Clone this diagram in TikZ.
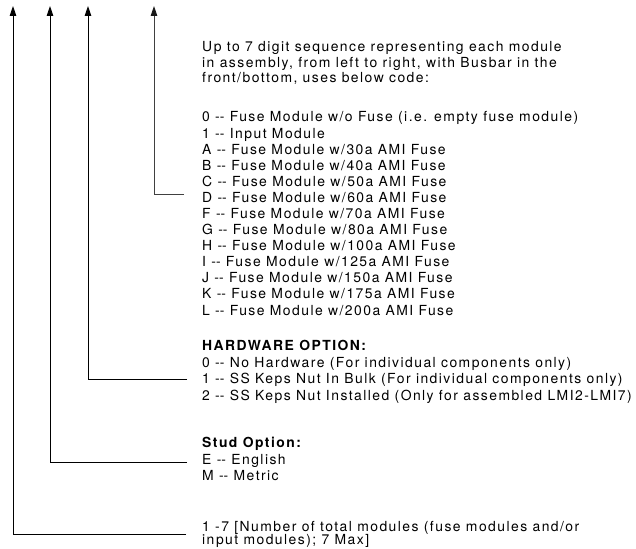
\documentclass[tikz,border=0pt]{standalone}
\usepackage{fontspec}
\setmainfont{TeX Gyre Heros}[LetterSpace=10.5]
\usetikzlibrary{arrows.meta}
\newcommand{\dd}{-\kern0pt-}
\begin{document}
\begin{tikzpicture}[x=1pt,y=-1pt,
  txt/.style={anchor=base west,inner sep=0pt,font=\fontsize{13.9}{16}\selectfont},
  bold/.style={txt,font=\fontsize{13.9}{16}\selectfont\bfseries},
  conn/.style={line width=0.9pt,-{Triangle[width=6.5pt,length=10pt]}},
  gconn/.style={line width=0.9pt,draw=black!75,-{Triangle[width=6.5pt,length=10pt,color=black!90]}}]
\useasboundingbox (0,0) rectangle (636,548);
% header
\node[txt] (h1) at (202,52) {Up to 7 digit sequence representing each module};
\node[txt] (h2) at (202,67.5) {in assembly, from left to right, with Busbar in the};
\node[txt] (h3) at (202,83) {front/bottom, uses below code:};
% code list
\node[txt] (c0) at (202,122) {0 \dd{} Fuse Module w/o Fuse (i.e. empty fuse module)};
\node[txt] (c1) at (202,138.1) {1 \dd{} Input Module};
\node[txt] (cA) at (202,154.2) {A \dd{} Fuse Module w/30a AMI Fuse};
\node[txt] (cB) at (202,170.2) {B \dd{} Fuse Module w/40a AMI Fuse};
\node[txt] (cC) at (202,186.3) {C \dd{} Fuse Module w/50a AMI Fuse};
\node[txt] (cD) at (202,202.4) {D \dd{} Fuse Module w/60a AMI Fuse};
\node[txt] (cF) at (202,218.5) {F \dd{} Fuse Module w/70a AMI Fuse};
\node[txt] (cG) at (202,234.6) {G \dd{} Fuse Module w/80a AMI Fuse};
\node[txt] (cH) at (202,250.6) {H \dd{} Fuse Module w/100a AMI Fuse};
\node[txt] (cI) at (202,266.7) {I \dd{} Fuse Module w/125a AMI Fuse};
\node[txt] (cJ) at (202,282.8) {J \dd{} Fuse Module w/150a AMI Fuse};
\node[txt] (cK) at (202,298.9) {K \dd{} Fuse Module w/175a AMI Fuse};
\node[txt] (cL) at (202,315) {L \dd{} Fuse Module w/200a AMI Fuse};
% hardware
\node[bold] (hw) at (202,350) {HARDWARE OPTION:};
\node[txt] (hw0) at (202,367) {0 \dd{} No Hardware (For individual components only)};
\node[txt] (hw1) at (202,383.5) {1 \dd{} SS Keps Nut In Bulk (For individual components only)};
\node[txt] (hw2) at (202,400) {2 \dd{} SS Keps Nut Installed (Only for assembled LMI2-LMI7)};
% stud
\node[bold] (st) at (202,447) {Stud Option:};
\node[txt] (stE) at (202,464) {E \dd{} English};
\node[txt] (stM) at (202,480.5) {M \dd{} Metric};
% count
\node[txt] (n1) at (202,531) {1 -7 [Number of total modules (fuse modules and/or};
\node[txt] (n2) at (202,544.5) {input modules); 7 Max]};
% connector coordinates
\coordinate (t1) at (13,6);
\coordinate (t2) at (50,6);
\coordinate (t3) at (88,6);
\coordinate (t4) at (154,6);
\coordinate (e1) at (186,534);
\coordinate (e2) at (187,462);
\coordinate (e3) at (187,379);
\coordinate (e4) at (184,194);
\draw[conn] (e1) -| (t1);
\draw[conn] (e2) -| (t2);
\draw[conn] (e3) -| (t3);
\draw[gconn] (e4) -| (t4);
\end{tikzpicture}
\end{document}
